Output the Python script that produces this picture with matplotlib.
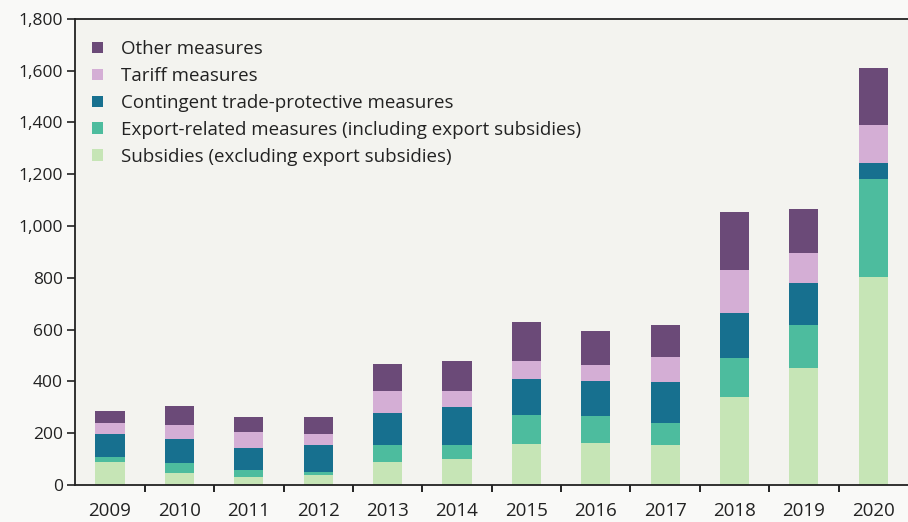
import matplotlib.pyplot as plt
import numpy as np
from matplotlib.ticker import FuncFormatter, FixedLocator

plt.rcParams["font.family"] = ["Open Sans", "DejaVu Sans"]

years = ["2009", "2010", "2011", "2012", "2013", "2014",
         "2015", "2016", "2017", "2018", "2019", "2020"]

# stacked from the bottom up
subsidies = [90, 48, 30, 39, 90, 99, 157, 161, 154, 339, 450, 802]
export_related = [19, 36, 28, 12, 64, 55, 113, 105, 84, 150, 168, 378]
contingent = [88, 92, 84, 103, 123, 148, 138, 137, 161, 174, 163, 64]
tariff = [41, 54, 64, 43, 87, 62, 72, 60, 94, 167, 114, 146]
other = [49, 76, 58, 67, 103, 116, 148, 133, 125, 225, 169, 221]

series = [
    ("Subsidies (excluding export subsidies)", subsidies, "#c6e5b6"),
    ("Export-related measures (including export subsidies)", export_related, "#4dbc9e"),
    ("Contingent trade-protective measures", contingent, "#17708f"),
    ("Tariff measures", tariff, "#d4aed5"),
    ("Other measures", other, "#6b4a78"),
]


def main():
    fig = plt.figure(figsize=(9.08, 5.22), dpi=100, facecolor="#f9f9f7")
    ax = fig.add_axes([0.083, 0.071, 0.917, 0.893])
    ax.set_facecolor("#f3f3ef")

    x = np.arange(len(years))
    bottom = np.zeros(len(years))
    handles = []
    for label, values, color in series:
        bars = ax.bar(x, values, width=0.42, bottom=bottom, color=color,
                      label=label, zorder=2)
        handles.append(bars)
        bottom += np.array(values)

    ax.set_xlim(-0.5, 11.5)
    ax.set_ylim(0, 1800)
    ax.set_yticks(range(0, 1801, 200))
    ax.yaxis.set_major_formatter(FuncFormatter(lambda v, _: f"{int(v):,}"))
    ax.set_xticks(x)
    ax.set_xticklabels(years)
    ax.tick_params(axis="x", which="major", length=0, pad=12, labelsize=13.5)
    ax.xaxis.set_minor_locator(FixedLocator(x[:-1] + 0.5))
    ax.tick_params(axis="x", which="minor", length=5, width=1.2, direction="out")
    ax.tick_params(axis="y", length=6, width=1.2, pad=3, labelsize=12.5)
    ax.tick_params(colors="#222222")

    for side in ["left", "bottom", "top"]:
        ax.spines[side].set_linewidth(1.3)
        ax.spines[side].set_color("#222222")
    ax.spines["right"].set_visible(False)

    leg = ax.legend(handles[::-1], [s[0] for s in series][::-1],
                    loc="upper left", bbox_to_anchor=(0.0, 0.99),
                    frameon=False, fontsize=13.5, handlelength=0.55,
                    handleheight=0.55, handletextpad=1.0, labelspacing=0.47)
    for t in leg.get_texts():
        t.set_color("#222222")

    fig.savefig("out.png", dpi=100, facecolor=fig.get_facecolor())


if __name__ == "__main__":
    main()
